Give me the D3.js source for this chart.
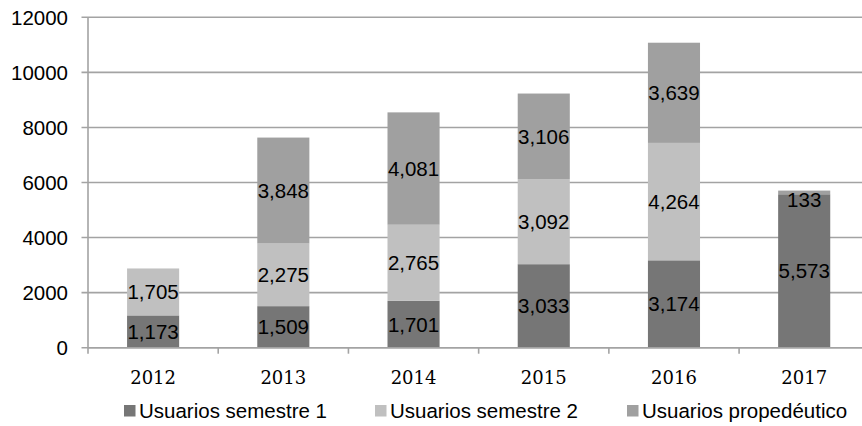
<!DOCTYPE html>
<html>
<head>
<meta charset="utf-8">
<script src="https://cdn.jsdelivr.net/npm/d3@7"></script>
<style>
html,body{margin:0;padding:0;background:#fff;}
svg{display:block;}
</style>
</head>
<body>
<script>
const years = ["2012","2013","2014","2015","2016","2017"];
const semestre1 = [1173,1509,1701,3033,3174,5573];
const semestre2 = [1705,2275,2765,3092,4264,0];
const propedeutico = [0,3848,4081,3106,3639,133];
const seriesNames = ["Usuarios semestre 1","Usuarios semestre 2","Usuarios propedéutico"];
const seriesColors = ["#767676","#c0c0c0","#a0a0a0"];
const yTicks = [0,2000,4000,6000,8000,10000,12000];

const W = 862, H = 426;
const svg = d3.select("body").append("svg").attr("width",W).attr("height",H);

const x = d3.scaleBand().domain(years).range([88,869.3]).paddingInner(0.6).paddingOuter(0.3);
const y = d3.scaleLinear().domain([0,12000]).range([347.7,17.3]);

const gridColor = "#a3a3a3";

// gridlines + y tick labels
const gy = svg.append("g");
yTicks.forEach(t=>{
  gy.append("line").attr("x1",81.5).attr("x2",W+10).attr("y1",y(t)).attr("y2",y(t))
    .attr("stroke",gridColor).attr("stroke-width",1.6);
  gy.append("text").attr("x",68).attr("y",y(t)+7.5).attr("text-anchor","end")
    .attr("font-family","Liberation Sans, Arial, sans-serif").attr("font-size",20.5)
    .attr("fill","#000").text(t);
});

// stacked data
const table = years.map((yr,i)=>({year:yr, s1:semestre1[i], s2:semestre2[i], p:propedeutico[i]}));
const stack = d3.stack().keys(["s1","s2","p"]);
const layers = stack(table);

layers.forEach((layer,li)=>{
  svg.append("g").selectAll("rect").data(layer).join("rect")
    .attr("x",d=>x(d.data.year))
    .attr("width",x.bandwidth())
    .attr("y",d=>y(d[1]))
    .attr("height",d=>y(d[0])-y(d[1]))
    .attr("fill",seriesColors[li]);
});

// axes lines
svg.append("line").attr("x1",88).attr("x2",88).attr("y1",y(12000)).attr("y2",y(0)+6)
  .attr("stroke",gridColor).attr("stroke-width",1.6);
svg.append("line").attr("x1",88).attr("x2",W+10).attr("y1",y(0)).attr("y2",y(0))
  .attr("stroke",gridColor).attr("stroke-width",1.6);
// category boundary ticks
years.forEach((yr)=>{
  const bx = x(yr) - x.step()*x.paddingInner()/2 + x.step();
  svg.append("line").attr("x1",bx).attr("x2",bx).attr("y1",y(0)).attr("y2",y(0)+6)
    .attr("stroke",gridColor).attr("stroke-width",1.6);
});

// x labels
svg.append("g").selectAll("text").data(years).join("text")
  .attr("x",d=>x(d)+x.bandwidth()/2).attr("y",383.5)
  .attr("text-anchor","middle")
  .attr("font-family","DejaVu Serif, Liberation Serif, serif").attr("font-size",18)
  .attr("fill","#000").text(d=>d);

// data labels
const fmt = d3.format(",");
layers.forEach((layer)=>{
  svg.append("g").selectAll("text").data(layer.filter(d=>d[1]-d[0]>0)).join("text")
    .attr("x",d=>x(d.data.year)+x.bandwidth()/2)
    .attr("y",d=>{
      const c = (y(d[0])+y(d[1]))/2;
      const minC = y(d[1]) + 9.5;
      return Math.max(c,minC) + 7.3;
    })
    .attr("text-anchor","middle")
    .attr("font-family","Liberation Sans, Arial, sans-serif").attr("font-size",20.5)
    .attr("fill","#000").text(d=>fmt(d[1]-d[0]));
});

// legend
const legendX = [124,375,627];
seriesNames.forEach((n,i)=>{
  svg.append("rect").attr("x",legendX[i]).attr("y",405).attr("width",11.5).attr("height",11.5)
    .attr("fill",seriesColors[i]);
  svg.append("text").attr("x",legendX[i]+15).attr("y",418)
    .attr("font-family","Liberation Sans, Arial, sans-serif").attr("font-size",20.5)
    .attr("fill","#000").text(n);
});
</script>
</body>
</html>
